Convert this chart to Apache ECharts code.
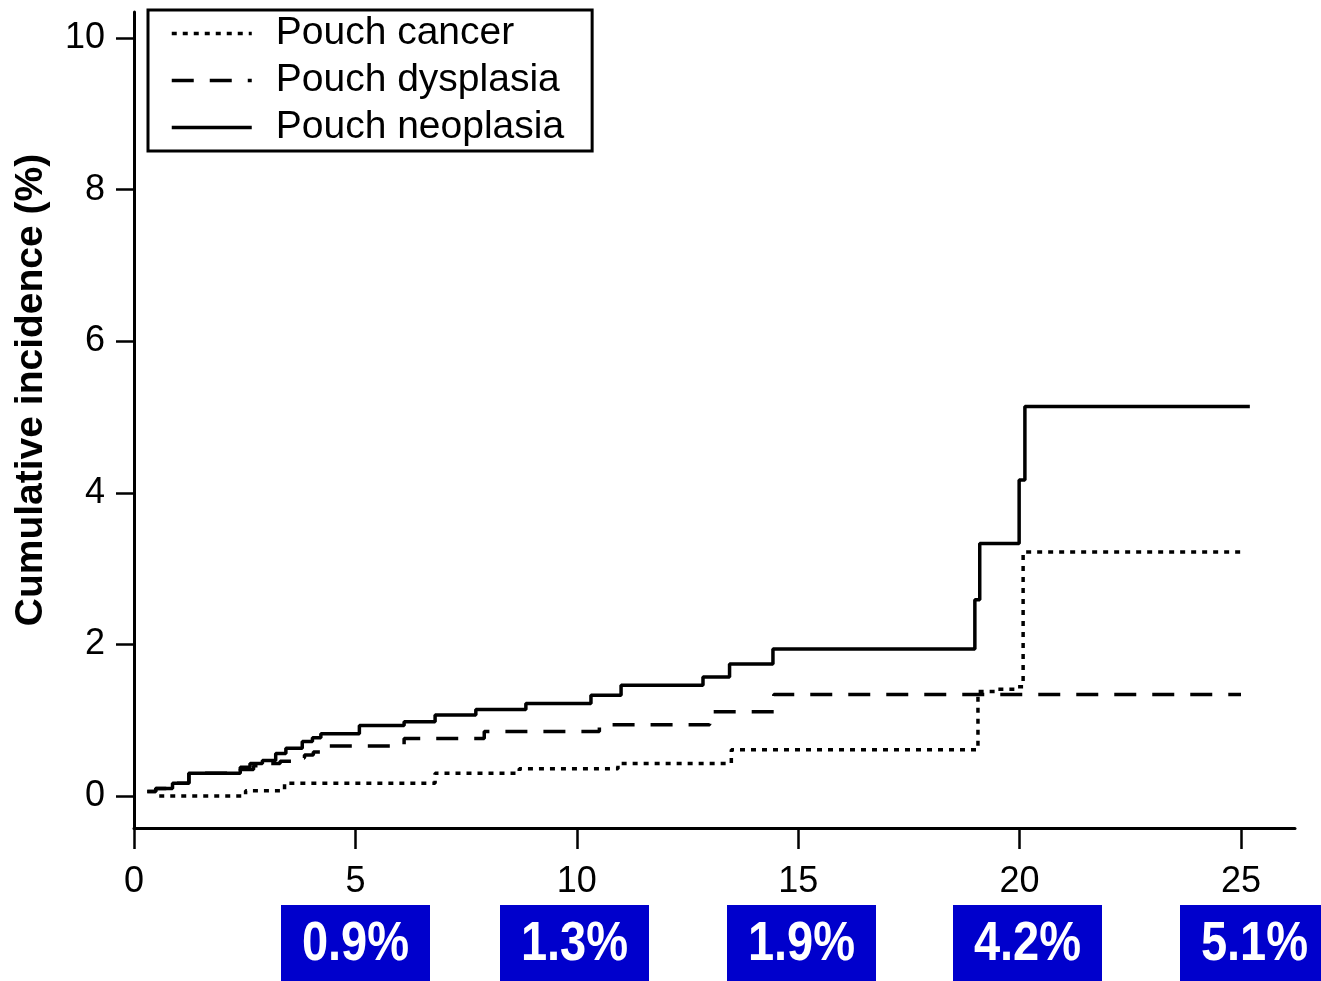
<!DOCTYPE html>
<html>
<head>
<meta charset="utf-8">
<script src="https://cdn.jsdelivr.net/npm/echarts@6/dist/echarts.min.js"></script>
<style>
html,body{margin:0;padding:0;background:#fff;}
#chart{width:1321px;height:981px;}
</style>
</head>
<body>
<div id="chart"></div>
<script>
// ---- data ----
const xTicks = [0, 5, 10, 15, 20, 25];
const yTicks = [0, 2, 4, 6, 8, 10];
const seriesNames = ['Pouch cancer', 'Pouch dysplasia', 'Pouch neoplasia'];
const yAxisTitle = 'Cumulative incidence (%)';

// step points: time (years) where value jumps, value after jump (%)
const cancerX = [0.57, 2.52, 3.40, 6.80, 8.70, 10.93, 13.49, 19.06, 19.50, 19.90, 20.08, 25.0];
const cancerY = [0.00, 0.07, 0.17, 0.30, 0.36, 0.43, 0.61, 1.38, 1.41, 1.44, 3.22, 3.22];

const dysplasiaX = [0.30, 0.49, 0.87, 1.24, 2.40, 2.70, 3.00, 3.30, 3.60, 3.85, 4.05, 4.30, 6.10, 7.91, 10.51, 13.00, 14.45, 25.0];
const dysplasiaY = [0.06, 0.10, 0.17, 0.30, 0.35, 0.40, 0.43, 0.46, 0.50, 0.54, 0.58, 0.66, 0.76, 0.85, 0.94, 1.11, 1.34, 1.34];

const neoplasiaX = [0.30, 0.49, 0.87, 1.24, 2.40, 2.62, 2.90, 3.20, 3.43, 3.80, 4.03, 4.22, 5.09, 6.10, 6.80, 7.72, 8.85, 10.32, 11.00, 12.85, 13.45, 14.43, 18.99, 19.10, 19.99, 20.12, 25.2];
const neoplasiaY = [0.06, 0.10, 0.17, 0.30, 0.38, 0.43, 0.47, 0.56, 0.63, 0.72, 0.77, 0.82, 0.93, 0.98, 1.07, 1.14, 1.22, 1.33, 1.46, 1.57, 1.74, 1.94, 2.59, 3.33, 4.17, 5.14, 5.14];

const boxLabels = ['0.9%', '1.3%', '1.9%', '4.2%', '5.1%'];

// ---- chart ----
const pair = (xs, ys) => xs.map((x, i) => [x, ys[i]]);
const FONT = "'Liberation Sans', Arial, Helvetica, sans-serif";
const chart = echarts.init(document.getElementById('chart'), null, {renderer: 'canvas'});

const boxLefts = [281, 500, 727, 953, 1180];
const graphics = [{
  type: 'text',
  x: 31, y: 390,
  rotation: Math.PI / 2,
  style: {
    text: yAxisTitle, font: 'bold 39px ' + FONT, fill: '#000',
    align: 'center', verticalAlign: 'middle'
  }
}];
boxLabels.forEach((t, i) => {
  graphics.push({
    type: 'rect', x: boxLefts[i], y: 905,
    shape: {width: 149, height: 80},
    style: {fill: '#0000CC'}
  });
  graphics.push({
    type: 'text', x: boxLefts[i] + 74.5, y: 945,
    scaleX: 0.84,
    style: {
      text: t, font: 'bold 56px ' + FONT,
      fill: '#fff', align: 'center', verticalAlign: 'middle'
    }
  });
});

const lineStyles = [
  {color: '#000', width: 3.5, type: [5, 6]},
  {color: '#000', width: 3.5, type: [22, 16]},
  {color: '#000', width: 3.5, type: 'solid'}
];
const dataSets = [pair(cancerX, cancerY), pair(dysplasiaX, dysplasiaY), pair(neoplasiaX, neoplasiaY)];

chart.setOption({
  animation: false,
  backgroundColor: '#fff',
  grid: {left: 134, right: 26, top: 12, bottom: 153, containLabel: false},
  xAxis: {
    type: 'value', min: 0, max: 26.22,
    axisLine: {show: true, onZero: false, lineStyle: {color: '#000', width: 3}},
    axisTick: {show: true, length: 21, lineStyle: {color: '#000', width: 2.5}, customValues: xTicks},
    axisLabel: {show: true, margin: 36, color: '#000', fontSize: 36, fontFamily: FONT, customValues: xTicks},
    splitLine: {show: false}
  },
  yAxis: {
    type: 'value', min: -0.422, max: 10.343,
    axisLine: {show: true, onZero: false, lineStyle: {color: '#000', width: 3}},
    axisTick: {show: true, length: 18, lineStyle: {color: '#000', width: 2.5}, customValues: yTicks},
    axisLabel: {show: true, margin: 29, color: '#000', fontSize: 36, fontFamily: FONT, customValues: yTicks},
    splitLine: {show: false}
  },
  legend: {
    orient: 'vertical', left: 148, top: 10,
    padding: [0, 28, 0, 22], itemGap: 0,
    itemWidth: 80, itemHeight: 20,
    borderColor: '#000', borderWidth: 3,
    textStyle: {fontSize: 39, lineHeight: 47, color: '#000', fontFamily: FONT, padding: [0, 0, 0, 19]},
    data: seriesNames.map((n, i) => ({
      name: n, lineStyle: lineStyles[i],
      itemStyle: {opacity: 0, borderWidth: 0}
    }))
  },
  graphic: graphics,
  series: seriesNames.map((n, i) => ({
    name: n, type: 'line', step: 'end',
    data: dataSets[i], symbol: 'none', showSymbol: false,
    lineStyle: lineStyles[i], itemStyle: {color: '#000'},
    z: i + 2, silent: true
  }))
});
</script>
</body>
</html>
